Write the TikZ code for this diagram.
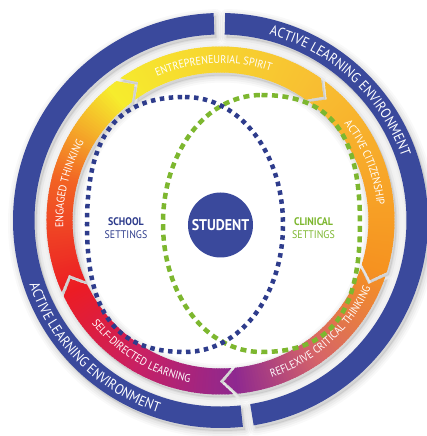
\documentclass[tikz,border=0pt]{standalone}
\usepackage{fontspec}
\setmainfont{PT Sans}[FakeStretch=0.9]
\usetikzlibrary{decorations.text}

\definecolor{ringblue}{RGB}{58,73,156}
\definecolor{navy}{RGB}{46,60,140}
\definecolor{leafgreen}{RGB}{125,183,47}
% colour stops of the arrow ring, clockwise from the top left
\definecolor{g0}{RGB}{246,236,45}
\definecolor{g1}{RGB}{248,190,50}
\definecolor{g2}{RGB}{246,146,32}
\definecolor{g3}{RGB}{214,100,105}
\definecolor{g4}{RGB}{142,40,144}
\definecolor{g5}{RGB}{200,32,100}
\definecolor{g6}{RGB}{236,28,36}
\definecolor{g7}{RGB}{242,100,36}

% arrow ring geometry
\newcommand{\arRi}{148}
\newcommand{\arRo}{174}
\newcommand{\arRm}{161}
\newcommand{\arGap}{0.8}
\newcommand{\arTip}{4.5}
% blue ring geometry
\newcommand{\blRi}{186}
\newcommand{\blRo}{207.5}

% one arrow segment running clockwise from angle #1 to angle #2
\newcommand{\segpath}[2]{({#1-\arGap}:\arRo) arc[start angle={#1-\arGap}, end angle={#2+\arGap}, radius=\arRo]
  -- ({#2+\arGap-\arTip}:\arRm) -- ({#2+\arGap}:\arRi)
  arc[start angle={#2+\arGap}, end angle={#1-\arGap}, radius=\arRi]
  -- ({#1-\arGap-\arTip}:\arRm) -- cycle}
\newcommand{\allsegs}{\segpath{126}{54} \segpath{54}{-18} \segpath{-18}{-85} \segpath{-85}{-155} \segpath{205}{126}}
\newcommand{\bluepieceA}{(-80.8:\blRo) arc[start angle=-80.8, end angle=88.7, radius=\blRo] -- (88.7:\blRi) arc[start angle=88.7, end angle=-80.8, radius=\blRi] -- cycle}
\newcommand{\bluepieceB}{(91.9:\blRo) arc[start angle=91.9, end angle=276.2, radius=\blRo] -- (276.2:\blRi) arc[start angle=276.2, end angle=91.9, radius=\blRi] -- cycle}

% soft drop shadow under a closed path
\newcommand{\softshadow}[1]{%
  \foreach \w/\o in {14/0.025, 10/0.03, 6/0.035, 2/0.04}{
    \draw[line width=\w, black, opacity=\o, line join=round, shift={(2,-3)}] #1;
  }
  \fill[black, opacity=0.08, shift={(2,-3)}] #1;
}

\newcommand{\arfont}{\fontsize{11.2}{13}\selectfont}
\newcommand{\blfont}{\fontsize{14.2}{16}\selectfont}

\tikzset{
  ringlabel/.style={decorate, decoration={text along path, text align=center, text color=white, text={#1}}},
  settings/.style={align=center, inner sep=0, font=\fontsize{11}{13}\selectfont},
}

\begin{document}
\begin{tikzpicture}[x=1pt,y=1pt]
\useasboundingbox (-220.5,-215.5) rectangle (206.5,220.5);
\clip (-220.5,-215.5) rectangle (206.5,220.5);
\fill[white] (-220.5,-215.5) rectangle (206.5,220.5);

% outer blue ring in two pieces
\softshadow{\bluepieceA}
\softshadow{\bluepieceB}
\fill[ringblue] \bluepieceA;
\fill[ringblue] \bluepieceB;

% arrow ring with a colour sweep
\softshadow{\allsegs}
\begin{scope}
  \clip \allsegs;
  \foreach \ua/\ub/\ca/\cb in {0/76/g0/g1, 76/148/g1/g2, 148/185/g2/g3, 185/215/g3/g4, 215/250/g4/g5, 250/285/g5/g6, 285/325/g6/g7, 325/360/g7/g0}{
    \foreach \u in {\ua,...,\ub}{
      \pgfmathsetmacro\p{100*(\u-\ua)/(\ub-\ua)}
      \pgfmathsetmacro\th{130-\u}
      \colorlet{wc}{\cb!\p!\ca}
      \fill[wc] ({\th+0.7}:180) -- ({\th-0.7}:180) -- ({\th-0.7}:140) -- ({\th+0.7}:140) -- cycle;
    }
  }
\end{scope}

% labels on the blue ring
\path[ringlabel={|\blfont|ACTIVE LEARNING ENVIRONMENT}] (92.3:191.9) arc[start angle=92.3, end angle=2.3, radius=191.9];
\path[ringlabel={|\blfont|ACTIVE LEARNING ENVIRONMENT}] (180.3:201.6) arc[start angle=180.3, end angle=270.3, radius=201.6];

% labels on the arrow ring
\path[ringlabel={|\arfont|ENTREPRENEURIAL SPIRIT}] (132.6:157.2) arc[start angle=132.6, end angle=52.6, radius=157.2];
\path[ringlabel={|\arfont|ACTIVE CITIZENSHIP}] (61.8:157.2) arc[start angle=61.8, end angle=-18.2, radius=157.2];
\path[ringlabel={|\arfont|REFLEXIVE CRITICAL THINKING}] (-88.1:164.8) arc[start angle=-88.1, end angle=-8.1, radius=164.8];
\path[ringlabel={|\arfont|SELF-DIRECTED LEARNING}] (198.9:164.8) arc[start angle=198.9, end angle=278.9, radius=164.8];
\path[ringlabel={|\arfont|ENGAGED THINKING}] (206.4:157.2) arc[start angle=206.4, end angle=126.4, radius=157.2];

% dotted settings outlines
\draw[leafgreen, line width=4.5, dash pattern=on 6 off 4.5]
  (41,125.5) .. controls (109.95,125.5) and (139.5,86.95) .. (139.5,-3)
  .. controls (139.5,-92.95) and (109.95,-131.5) .. (41,-131.5)
  .. controls (-14.16,-131.5) and (-57.5,-74.96) .. (-57.5,-3)
  .. controls (-57.5,68.96) and (-14.16,125.5) .. cycle;
\draw[navy, line width=4.5, dash pattern=on 4.5 off 4.5]
  (-35.5,123.5) .. controls (19.4,123.5) and (62.5,67.4) .. (62.5,-4)
  .. controls (62.5,-75.4) and (19.4,-131.5) .. (-35.5,-131.5)
  .. controls (-104.1,-131.5) and (-133.5,-93.25) .. (-133.5,-4)
  .. controls (-133.5,85.25) and (-104.1,123.5) .. cycle;

% centre and setting labels
\node[circle, fill=ringblue, minimum size=65, inner sep=0, text=white, font=\bfseries\fontsize{15.5}{15}\selectfont] (student) at (0,-4.5) {STUDENT};
\node[settings, text=navy] (school) at (-94.5,-8) {\textbf{SCHOOL}\\SETTINGS};
\node[settings, text=leafgreen] (clinical) at (93,-8) {\textbf{CLINICAL}\\SETTINGS};
\end{tikzpicture}
\end{document}
